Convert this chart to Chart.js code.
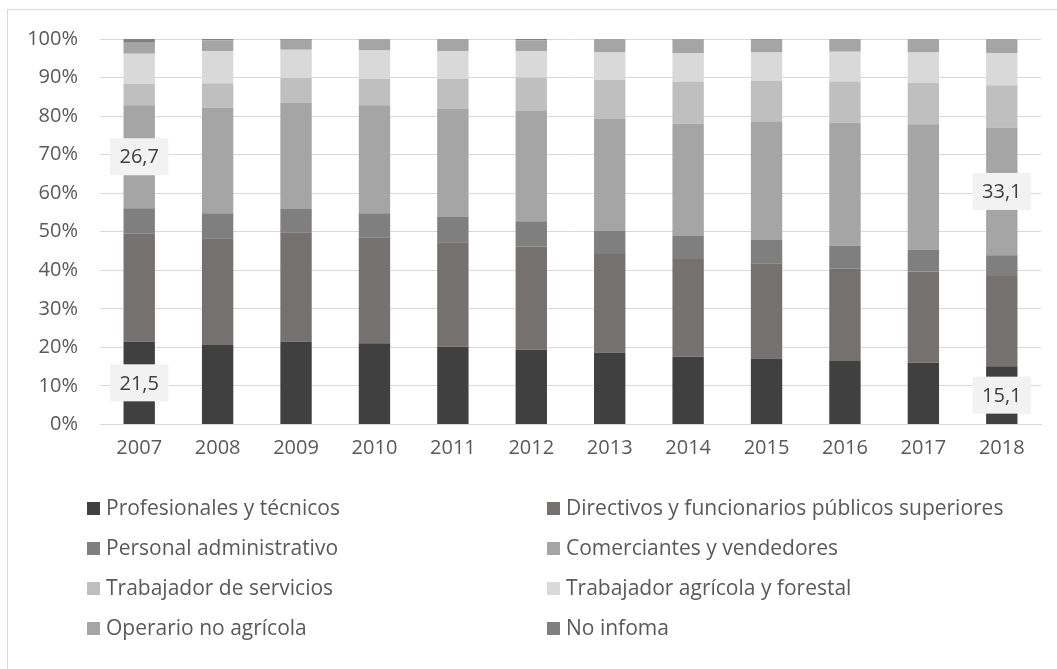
<!DOCTYPE html>
<html lang="es">
<head>
<meta charset="utf-8">
<title>Ocupados por grupo ocupacional, 2007-2018</title>
<script src="https://cdn.jsdelivr.net/npm/chart.js@4/dist/chart.umd.min.js"></script>
<style>
  body { margin: 0; background: #fff; }
  #wrap { position: relative; width: 1057px; height: 669px; overflow: hidden; }
  #frame {
    position: absolute; left: 7px; top: 9px; width: 1200px; height: 800px;
    border-left: 1px solid #d9d9d9; border-top: 1px solid #d9d9d9;
  }
  #chart { position: absolute; left: 0; top: 0; }
</style>
</head>
<body>
<div id="wrap">
  <div id="frame"></div>
  <canvas id="chart" width="1057" height="669"></canvas>
</div>
<script>
const years = ["2007", "2008", "2009", "2010", "2011", "2012", "2013", "2014", "2015", "2016", "2017", "2018"];

// share of employed (%) by occupational group
const profesionales = [21.5, 20.6, 21.5, 21.1, 20.2, 19.4, 18.7, 17.6, 17.1, 16.5, 16.0, 15.1];
const directivos    = [28.0, 27.7, 28.4, 27.5, 27.1, 26.8, 25.5, 25.3, 24.7, 23.9, 23.7, 23.4];
const administrativo = [6.6, 6.5, 6.0, 6.2, 6.5, 6.5, 6.1, 6.1, 6.2, 6.0, 5.7, 5.4];
const comerciantes  = [26.7, 27.4, 27.6, 28.0, 28.2, 28.6, 29.1, 29.1, 30.5, 31.9, 32.5, 33.1];
const servicios     = [5.6, 6.3, 6.4, 6.9, 7.7, 8.7, 10.0, 10.9, 10.7, 10.7, 10.7, 11.0];
const agricola      = [7.8, 8.3, 7.3, 7.3, 7.2, 6.9, 7.1, 7.4, 7.3, 7.7, 7.9, 8.4];
const operario      = [2.8, 2.8, 2.6, 2.9, 3.1, 2.7, 3.5, 3.6, 3.3, 3.3, 3.5, 3.6];
const noInforma     = [1.0, 0.4, 0.2, 0.1, 0.0, 0.4, 0.0, 0.0, 0.2, 0.0, 0.0, 0.0];

const yTicks = [0, 10, 20, 30, 40, 50, 60, 70, 80, 90, 100];

// [dataset, year index] pairs that get a value box
const labelled = [[0, 0], [3, 0], [0, 11], [3, 11]];

const textColor = "#595959";
const gridColor = "#d9d9d9";
Chart.defaults.font.family = "'Open Sans', sans-serif";
Chart.defaults.font.size = 20;
Chart.defaults.color = textColor;

const series = [
  { label: "Profesionales y técnicos", data: profesionales, color: "#404040" },
  { label: "Directivos y funcionarios públicos superiores", data: directivos, color: "#767171" },
  { label: "Personal administrativo", data: administrativo, color: "#7f7f7f" },
  { label: "Comerciantes y vendedores", data: comerciantes, color: "#a5a5a5" },
  { label: "Trabajador de servicios", data: servicios, color: "#bfbfbf" },
  { label: "Trabajador agrícola y forestal", data: agricola, color: "#d9d9d9" },
  { label: "Operario no agrícola", data: operario, color: "#a5a5a5" },
  { label: "No infoma", data: noInforma, color: "#7f7f7f" },
];

const valueBoxes = {
  id: "valueBoxes",
  afterDatasetsDraw(chart) {
    const ctx = chart.ctx;
    ctx.save();
    ctx.font = "20px 'Open Sans', sans-serif";
    ctx.textAlign = "center";
    ctx.textBaseline = "middle";
    labelled.forEach(([ds, i]) => {
      const bar = chart.getDatasetMeta(ds).data[i];
      const txt = chart.data.datasets[ds].data[i].toFixed(1).replace(".", ",");
      const w = ctx.measureText(txt).width + 19;
      const h = 37;
      const y = (bar.y + bar.base) / 2;
      ctx.fillStyle = "#f2f2f2";
      ctx.fillRect(bar.x - w / 2, y - h / 2, w, h);
      ctx.fillStyle = "#404040";
      ctx.fillText(txt, bar.x, y + 1);
    });
    ctx.restore();
  },
};

// two-column legend under the plot
const columnLegend = {
  id: "columnLegend",
  afterDraw(chart) {
    const ctx = chart.ctx;
    ctx.save();
    ctx.font = "21px 'Open Sans', sans-serif";
    ctx.textBaseline = "middle";
    chart.data.datasets.forEach((ds, k) => {
      const x = k % 2 === 0 ? 87 : 547;
      const y = 509 + Math.floor(k / 2) * 40;
      ctx.fillStyle = ds.backgroundColor;
      ctx.fillRect(x, y - 7, 13, 13);
      ctx.fillStyle = textColor;
      ctx.fillText(ds.label, x + 19, y);
    });
    ctx.restore();
  },
};

new Chart("chart", {
  type: "bar",
  data: {
    labels: years,
    datasets: series.map((s) => ({
      label: s.label,
      data: s.data,
      backgroundColor: s.color,
      borderWidth: 0,
      barPercentage: 0.4,
      categoryPercentage: 1,
    })),
  },
  options: {
    responsive: false,
    animation: false,
    layout: { padding: { left: 0, top: 39, right: 16, bottom: 0 } },
    plugins: {
      legend: { display: false },
      tooltip: { enabled: false },
    },
    scales: {
      x: {
        stacked: true,
        grid: { display: false, drawTicks: false },
        border: { color: gridColor, width: 1 },
        ticks: { padding: 12, color: textColor },
        afterFit: (scale) => { scale.height = 669 - 424.5; },
      },
      y: {
        stacked: true,
        min: 0,
        max: 100,
        afterBuildTicks: (scale) => { scale.ticks = yTicks.map((v) => ({ value: v })); },
        ticks: { padding: 22, color: textColor, callback: (v) => v + "%" },
        grid: { color: gridColor, lineWidth: 1, drawTicks: false },
        border: { display: false },
        afterFit: (scale) => { scale.width = 100; },
      },
    },
  },
  plugins: [valueBoxes, columnLegend],
});
</script>
</body>
</html>
